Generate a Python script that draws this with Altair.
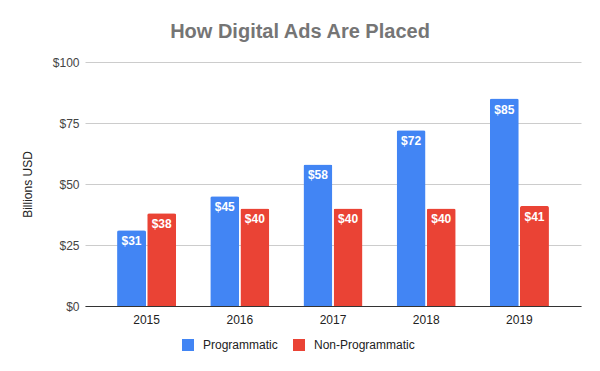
import altair as alt
import pandas as pd

years = ["2015", "2016", "2017", "2018", "2019"]
programmatic = [31, 45, 58, 72, 85]
non_programmatic = [38, 40, 40, 40, 41]
series = ["Programmatic", "Non-Programmatic"]
colors = ["#4285F4", "#EA4335"]

rows = []
for i, y in enumerate(years):
    rows.append({"year": y, "series": series[0], "value": programmatic[i]})
    rows.append({"year": y, "series": series[1], "value": non_programmatic[i]})
df = pd.DataFrame(rows)
df["label"] = "$" + df["value"].astype(str)

FONT = "Arial, Liberation Sans, sans-serif"

x = alt.X("year:N", title=None, sort=years,
          scale=alt.Scale(paddingInner=0.366, paddingOuter=0.344),
          axis=alt.Axis(labelAngle=0, ticks=False, domainColor="#333333",
                        labelColor="#222222", labelFontSize=12, labelPadding=8,
                        labelFont=FONT, grid=False))
xo = alt.XOffset("series:N", sort=series, scale=alt.Scale(paddingInner=0.04))
y = alt.Y("value:Q", title="Billions USD",
          scale=alt.Scale(domain=[0, 100], nice=False),
          axis=alt.Axis(values=[0, 25, 50, 75, 100], format="$.0f", domain=False,
                        ticks=False, gridColor="#cccccc", labelColor="#444444",
                        labelFontSize=12, labelPadding=6, labelFont=FONT,
                        titleFont=FONT, titleFontSize=12, titleFontWeight="normal",
                        titleColor="#222222", titlePadding=18))
color = alt.Color("series:N", sort=series,
                  scale=alt.Scale(domain=series, range=colors),
                  legend=alt.Legend(title=None, orient="none", direction="horizontal",
                                    legendX=97, legendY=277, padding=0,
                                    symbolType="square", symbolSize=144,
                                    symbolStrokeWidth=0, symbolOpacity=1,
                                    labelFont=FONT, labelFontSize=12,
                                    labelColor="#222222", labelOffset=9,
                                    columnPadding=15))

base = alt.Chart(df).encode(x=x, xOffset=xo, y=y)

bars = base.mark_bar(cornerRadiusTopLeft=2, cornerRadiusTopRight=2).encode(color=color)
labels = base.mark_text(baseline="top", dy=6, color="white", fontWeight="bold",
                        fontSize=12, font=FONT).encode(text="label:N")

chart = (bars + labels).properties(
    width=496, height=244,
    title=alt.TitleParams("How Digital Ads Are Placed", anchor="middle", dx=-33,
                          fontSize=20, font=FONT, fontWeight="bold",
                          color="#757575", offset=14),
    autosize=alt.AutoSizeParams(type="none"),
    padding={"left": 77, "top": 54, "right": 11, "bottom": 55},
).configure_view(stroke=None)

chart.save("out.html", embed_options={"renderer": "svg", "actions": False})
